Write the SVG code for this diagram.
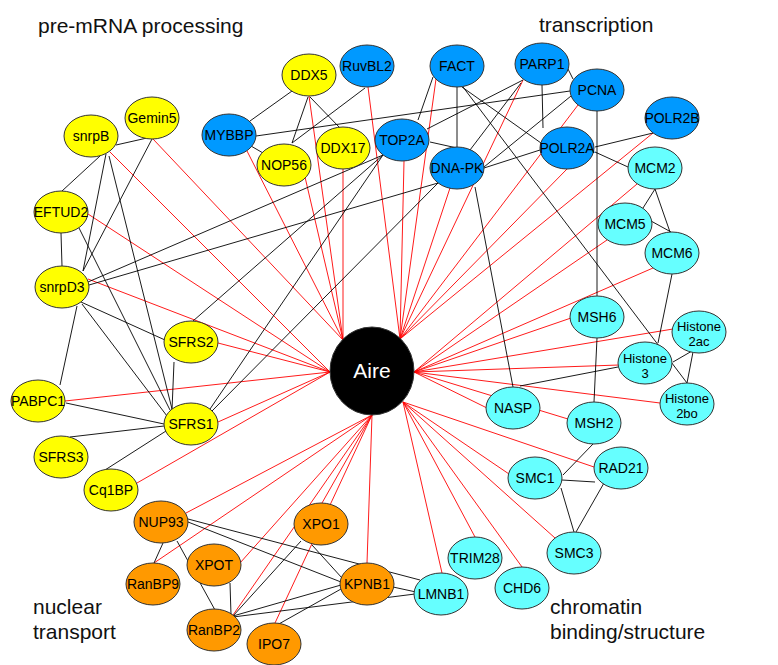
<svg xmlns="http://www.w3.org/2000/svg" width="778" height="665" viewBox="0 0 778 665">
<style>
.r{stroke:#ff0000;stroke-width:0.9;fill:none}
.k{stroke:#000;stroke-width:0.9;fill:none}
ellipse{stroke:#333;stroke-width:1}
.y{fill:#ffff00}.b{fill:#0099ff}.c{fill:#66ffff}.o{fill:#ff9900}
text{font-family:"Liberation Sans",Arial,sans-serif;font-size:14px;fill:#000;text-anchor:middle}
.h{font-size:13px}
.cat{font-size:21px;text-anchor:start;fill:#111}
</style>
<rect width="778" height="665" fill="#fff"/>
<g id="labels">
<text class="cat" x="38" y="33">pre-mRNA processing</text>
<text class="cat" x="539" y="32">transcription</text>
<text class="cat" x="33" y="614">nuclear</text>
<text class="cat" x="33" y="639">transport</text>
<text class="cat" x="550" y="614">chromatin</text>
<text class="cat" x="550" y="639">binding/structure</text>
</g>
<g id="connectors">
<g class="r">
<line x1="110" y1="152" x2="330" y2="372"/>
<line x1="153" y1="139" x2="343" y2="340"/>
<line x1="247" y1="151" x2="343" y2="340"/>
<line x1="88" y1="214" x2="330" y2="372"/>
<line x1="88" y1="279" x2="330" y2="372"/>
<line x1="218" y1="343" x2="330" y2="372"/>
<line x1="65" y1="401" x2="330" y2="372"/>
<line x1="218" y1="422" x2="330" y2="372"/>
<line x1="137" y1="483" x2="330" y2="372"/>
<line x1="309" y1="96" x2="343" y2="340"/>
<line x1="305" y1="177" x2="343" y2="340"/>
<line x1="343" y1="169" x2="343" y2="340"/>
<line x1="368" y1="87" x2="400" y2="339"/>
<line x1="404" y1="161" x2="400" y2="339"/>
<line x1="436" y1="79" x2="400" y2="339"/>
<line x1="523" y1="80" x2="400" y2="339"/>
<line x1="450" y1="188" x2="400" y2="339"/>
<line x1="578" y1="105" x2="400" y2="339"/>
<line x1="567" y1="169" x2="400" y2="339"/>
<line x1="653" y1="133" x2="400" y2="339"/>
<line x1="637" y1="184" x2="414" y2="372"/>
<line x1="607" y1="240" x2="414" y2="372"/>
<line x1="653" y1="268" x2="414" y2="372"/>
<line x1="571" y1="318" x2="414" y2="372"/>
<line x1="673" y1="329" x2="414" y2="372"/>
<line x1="619" y1="365" x2="414" y2="372"/>
<line x1="660" y1="403" x2="414" y2="372"/>
<line x1="487" y1="408" x2="414" y2="372"/>
<line x1="568" y1="419" x2="414" y2="372"/>
<line x1="509" y1="474" x2="403" y2="402"/>
<line x1="594" y1="467" x2="403" y2="402"/>
<line x1="555" y1="538" x2="403" y2="402"/>
<line x1="475" y1="537" x2="403" y2="402"/>
<line x1="522" y1="567" x2="403" y2="402"/>
<line x1="442" y1="573" x2="403" y2="402"/>
<line x1="186" y1="513" x2="372" y2="415"/>
<line x1="154" y1="563" x2="372" y2="415"/>
<line x1="240" y1="563" x2="372" y2="415"/>
<line x1="233" y1="615" x2="372" y2="415"/>
<line x1="322" y1="503" x2="372" y2="415"/>
<line x1="275" y1="623" x2="372" y2="415"/>
<line x1="367" y1="563" x2="372" y2="415"/>
</g>
<g class="k">
<line x1="116" y1="145" x2="147" y2="138"/>
<line x1="100" y1="156" x2="62" y2="191"/>
<line x1="106" y1="154" x2="83" y2="271"/>
<line x1="152" y1="139" x2="83" y2="271"/>
<line x1="109" y1="156" x2="172" y2="409"/>
<line x1="61" y1="233" x2="62" y2="266"/>
<line x1="79" y1="228" x2="170" y2="410"/>
<line x1="81" y1="302" x2="165" y2="340"/>
<line x1="82" y1="304" x2="167" y2="416"/>
<line x1="77" y1="306" x2="60" y2="385"/>
<line x1="88" y1="282" x2="383" y2="155"/>
<line x1="89" y1="285" x2="438" y2="183"/>
<line x1="193" y1="321" x2="383" y2="155"/>
<line x1="174" y1="362" x2="172" y2="410"/>
<line x1="66" y1="403" x2="164" y2="424"/>
<line x1="70" y1="437" x2="164" y2="426"/>
<line x1="105" y1="470" x2="166" y2="431"/>
<line x1="210" y1="409" x2="383" y2="155"/>
<line x1="212" y1="411" x2="438" y2="183"/>
<line x1="250" y1="121" x2="292" y2="91"/>
<line x1="251" y1="146" x2="263" y2="153"/>
<line x1="256" y1="136" x2="570" y2="91"/>
<line x1="308" y1="97" x2="292" y2="143"/>
<line x1="310" y1="97" x2="340" y2="128"/>
<line x1="292" y1="143" x2="365" y2="88"/>
<line x1="418" y1="120" x2="433" y2="77"/>
<line x1="427" y1="129" x2="523" y2="80"/>
<line x1="430" y1="142" x2="457" y2="148"/>
<line x1="457" y1="87" x2="457" y2="147"/>
<line x1="462" y1="87" x2="541" y2="143"/>
<line x1="463" y1="87" x2="687" y2="383"/>
<line x1="542" y1="85" x2="543" y2="128"/>
<line x1="521" y1="83" x2="470" y2="150"/>
<line x1="568" y1="69" x2="573" y2="79"/>
<line x1="571" y1="96" x2="484" y2="167"/>
<line x1="597" y1="111" x2="597" y2="296"/>
<line x1="540" y1="150" x2="484" y2="168"/>
<line x1="595" y1="147" x2="653" y2="133"/>
<line x1="595" y1="152" x2="628" y2="167"/>
<line x1="475" y1="187" x2="513" y2="387"/>
<line x1="655" y1="189" x2="643" y2="208"/>
<line x1="655" y1="189" x2="670" y2="232"/>
<line x1="651" y1="221" x2="671" y2="232"/>
<line x1="672" y1="274" x2="658" y2="343"/>
<line x1="597" y1="338" x2="594" y2="402"/>
<line x1="520" y1="386" x2="618" y2="367"/>
<line x1="673" y1="362" x2="692" y2="351"/>
<line x1="693" y1="352" x2="687" y2="383"/>
<line x1="593" y1="444" x2="563" y2="475"/>
<line x1="562" y1="480" x2="595" y2="482"/>
<line x1="561" y1="488" x2="574" y2="532"/>
<line x1="604" y1="483" x2="576" y2="532"/>
<line x1="163" y1="543" x2="154" y2="563"/>
<line x1="177" y1="541" x2="215" y2="610"/>
<line x1="230" y1="583" x2="231" y2="615"/>
<line x1="188" y1="522" x2="341" y2="582"/>
<line x1="188" y1="519" x2="420" y2="580"/>
<line x1="233" y1="616" x2="301" y2="541"/>
<line x1="233" y1="616" x2="341" y2="585"/>
<line x1="233" y1="617" x2="415" y2="594"/>
<line x1="277" y1="625" x2="341" y2="589"/>
<line x1="312" y1="545" x2="342" y2="578"/>
<line x1="393" y1="587" x2="416" y2="592"/>
</g>
</g>
<g id="nodes">
<g id="snrpB"><ellipse class="y" cx="91" cy="136" rx="27" ry="21"/><text x="91" y="141">snrpB</text></g>
<g id="Gemin5"><ellipse class="y" cx="152" cy="118" rx="27" ry="21"/><text x="152" y="123">Gemin5</text></g>
<g id="DDX5"><ellipse class="y" cx="309" cy="75" rx="27" ry="21"/><text x="309" y="80">DDX5</text></g>
<g id="NOP56"><ellipse class="y" cx="284" cy="165" rx="27" ry="21"/><text x="284" y="170">NOP56</text></g>
<g id="DDX17"><ellipse class="y" cx="343" cy="148" rx="27" ry="21"/><text x="343" y="153">DDX17</text></g>
<g id="EFTUD2"><ellipse class="y" cx="61" cy="212" rx="27" ry="21"/><text x="61" y="217">EFTUD2</text></g>
<g id="snrpD3"><ellipse class="y" cx="62" cy="287" rx="27" ry="21"/><text x="62" y="292">snrpD3</text></g>
<g id="SFRS2"><ellipse class="y" cx="191" cy="342" rx="27" ry="21"/><text x="191" y="347">SFRS2</text></g>
<g id="PABPC1"><ellipse class="y" cx="38" cy="401" rx="27" ry="21"/><text x="38" y="406">PABPC1</text></g>
<g id="SFRS1"><ellipse class="y" cx="191" cy="424" rx="27" ry="21"/><text x="191" y="429">SFRS1</text></g>
<g id="SFRS3"><ellipse class="y" cx="61" cy="457" rx="27" ry="21"/><text x="61" y="462">SFRS3</text></g>
<g id="Cq1BP"><ellipse class="y" cx="111" cy="490" rx="27" ry="21"/><text x="111" y="495">Cq1BP</text></g>
<g id="MYBBP"><ellipse class="b" cx="229" cy="135" rx="27" ry="21"/><text x="229" y="140">MYBBP</text></g>
<g id="RuvBL2"><ellipse class="b" cx="367" cy="66" rx="27" ry="21"/><text x="367" y="71">RuvBL2</text></g>
<g id="FACT"><ellipse class="b" cx="457" cy="66" rx="27" ry="21"/><text x="457" y="71">FACT</text></g>
<g id="TOP2A"><ellipse class="b" cx="402" cy="140" rx="27" ry="21"/><text x="402" y="145">TOP2A</text></g>
<g id="DNA-PK"><ellipse class="b" cx="457" cy="168" rx="27" ry="21"/><text x="457" y="173">DNA-PK</text></g>
<g id="PARP1"><ellipse class="b" cx="542" cy="64" rx="27" ry="21"/><text x="542" y="69">PARP1</text></g>
<g id="PCNA"><ellipse class="b" cx="597" cy="90" rx="27" ry="21"/><text x="597" y="95">PCNA</text></g>
<g id="POLR2A"><ellipse class="b" cx="567" cy="148" rx="27" ry="21"/><text x="567" y="153">POLR2A</text></g>
<g id="POLR2B"><ellipse class="b" cx="672" cy="118" rx="27" ry="21"/><text x="672" y="123">POLR2B</text></g>
<g id="MCM2"><ellipse class="c" cx="655" cy="168" rx="27" ry="21"/><text x="655" y="173">MCM2</text></g>
<g id="MCM5"><ellipse class="c" cx="625" cy="224" rx="27" ry="21"/><text x="625" y="229">MCM5</text></g>
<g id="MCM6"><ellipse class="c" cx="672" cy="253" rx="27" ry="21"/><text x="672" y="258">MCM6</text></g>
<g id="MSH6"><ellipse class="c" cx="597" cy="317" rx="27" ry="21"/><text x="597" y="322">MSH6</text></g>
<g id="Histone2ac"><ellipse class="c" cx="699" cy="332" rx="27" ry="21"/><text class="h" x="699" y="331">Histone</text><text class="h" x="699" y="346">2ac</text></g>
<g id="Histone3"><ellipse class="c" cx="645" cy="363" rx="27" ry="21"/><text class="h" x="645" y="363">Histone</text><text class="h" x="645" y="378">3</text></g>
<g id="Histone2bo"><ellipse class="c" cx="687" cy="404" rx="27" ry="21"/><text class="h" x="687" y="403">Histone</text><text class="h" x="687" y="418">2bo</text></g>
<g id="NASP"><ellipse class="c" cx="513" cy="408" rx="27" ry="21"/><text x="513" y="413">NASP</text></g>
<g id="MSH2"><ellipse class="c" cx="594" cy="423" rx="27" ry="21"/><text x="594" y="428">MSH2</text></g>
<g id="SMC1"><ellipse class="c" cx="535" cy="478" rx="27" ry="21"/><text x="535" y="483">SMC1</text></g>
<g id="RAD21"><ellipse class="c" cx="621" cy="468" rx="27" ry="21"/><text x="621" y="473">RAD21</text></g>
<g id="SMC3"><ellipse class="c" cx="574" cy="553" rx="27" ry="21"/><text x="574" y="558">SMC3</text></g>
<g id="TRIM28"><ellipse class="c" cx="475" cy="558" rx="27" ry="21"/><text x="475" y="563">TRIM28</text></g>
<g id="CHD6"><ellipse class="c" cx="522" cy="588" rx="27" ry="21"/><text x="522" y="593">CHD6</text></g>
<g id="LMNB1"><ellipse class="c" cx="441" cy="594" rx="27" ry="21"/><text x="441" y="599">LMNB1</text></g>
<g id="NUP93"><ellipse class="o" cx="161" cy="522" rx="27" ry="21"/><text x="161" y="527">NUP93</text></g>
<g id="XPO1"><ellipse class="o" cx="321" cy="524" rx="27" ry="21"/><text x="321" y="529">XPO1</text></g>
<g id="XPOT"><ellipse class="o" cx="214" cy="565" rx="27" ry="21"/><text x="214" y="570">XPOT</text></g>
<g id="RanBP9"><ellipse class="o" cx="153" cy="584" rx="27" ry="21"/><text x="153" y="589">RanBP9</text></g>
<g id="KPNB1"><ellipse class="o" cx="367" cy="584" rx="27" ry="21"/><text x="367" y="589">KPNB1</text></g>
<g id="RanBP2"><ellipse class="o" cx="214" cy="630" rx="27" ry="21"/><text x="214" y="635">RanBP2</text></g>
<g id="IPO7"><ellipse class="o" cx="274" cy="644" rx="27" ry="21"/><text x="274" y="649">IPO7</text></g>
<g id="Aire"><ellipse cx="372" cy="371" rx="42" ry="44" fill="#000" stroke="#000"/><text x="372" y="378" style="font-size:21px;fill:#fff">Aire</text></g>
</g>
</svg>
